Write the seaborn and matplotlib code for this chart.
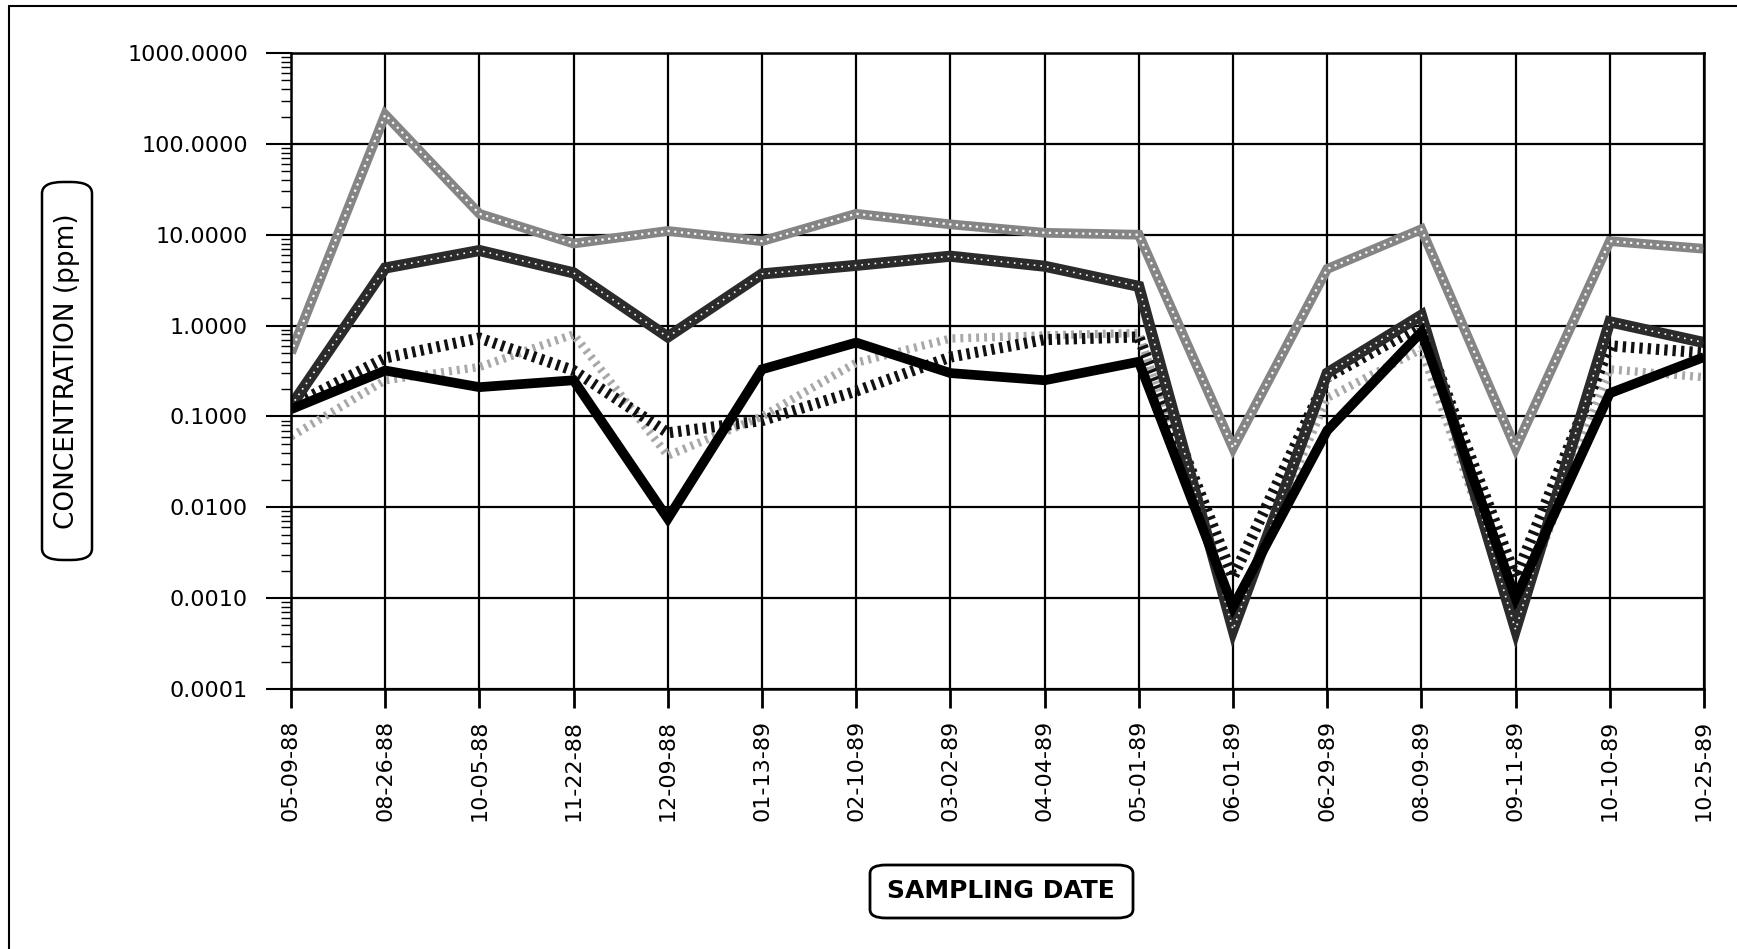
import numpy as np
import pandas as pd
import matplotlib
matplotlib.use("Agg")
import matplotlib.pyplot as plt
import seaborn as sns
from matplotlib.ticker import LogLocator, FixedLocator, FuncFormatter
from matplotlib.lines import Line2D
from matplotlib.patches import FancyBboxPatch

# Dates d'echantillonnage
dates = ["05-09-88", "08-26-88", "10-05-88", "11-22-88", "12-09-88", "01-13-89",
         "02-10-89", "03-02-89", "04-04-89", "05-01-89", "06-01-89", "06-29-89",
         "08-09-89", "09-11-89", "10-10-89", "10-25-89"]

# Concentrations (ppm)
serie_a = [0.5, 210, 17, 8, 11, 8.5, 17, 13, 10.5, 10, 0.045, 4.2, 11.5, 0.045, 8.5, 7]
serie_b = [0.13, 4.3, 6.7, 3.8, 0.75, 3.7, 4.6, 5.8, 4.5, 2.7, 0.00045, 0.3, 1.3, 0.00045, 1.1, 0.65]
serie_c = [0.13, 0.44, 0.73, 0.32, 0.066, 0.09, 0.19, 0.45, 0.7, 0.75, 0.0017, 0.27, 1.0, 0.0017, 0.6, 0.5]
serie_d = [0.06, 0.25, 0.35, 0.8, 0.037, 0.1, 0.39, 0.72, 0.78, 0.83, 0.0006, 0.16, 0.55, 0.0006, 0.33, 0.27]
serie_e = [0.12, 0.32, 0.21, 0.25, 0.0075, 0.33, 0.65, 0.3, 0.25, 0.4, 0.0008, 0.07, 0.85, 0.001, 0.18, 0.45]

y_ticks = [0.0001, 0.001, 0.01, 0.1, 1, 10, 100, 1000]

x = np.arange(len(dates))

sns.set_style("white")
plt.rcParams['font.family'] = ['DejaVu Sans']
plt.rcParams['text.color'] = 'black'
plt.rcParams['xtick.color'] = 'black'
plt.rcParams['ytick.color'] = 'black'

W, H = 1737, 949
fig = plt.figure(figsize=(W / 100, H / 100), dpi=100)
ax = fig.add_axes([291 / W, 1 - 689 / H, (1704 - 291) / W, (689 - 53) / H])

# (valeurs, couleur, epaisseur, tirets, surcouche)
styles = [
    (serie_a, "#858585", 7, None, ("white", 1.6, (1, 2))),
    (serie_d, "#a8a8a8", 6, (0.35, 0.6), None),
    (serie_c, "#111111", 8, (0.3, 0.45), None),
    (serie_b, "#2b2b2b", 8, None, ("white", 1.2, (1, 3))),
    (serie_e, "#000000", 7, None, None),
]

for vals, col, lw, dash, overlay in styles:
    sns.lineplot(x=x, y=vals, ax=ax, color=col, linewidth=lw, sort=False,
                 solid_joinstyle="miter", solid_capstyle="butt")
    if dash is not None:
        ax.lines[-1].set_dashes(dash)
    if overlay is not None:
        oc, olw, od = overlay
        sns.lineplot(x=x, y=vals, ax=ax, color=oc, linewidth=olw, sort=False)
        ax.lines[-1].set_dashes(od)

ax.set_yscale("log")
ax.set_ylim(1e-4, 1e3)
ax.set_xlim(0, len(dates) - 1)

ax.yaxis.set_major_locator(FixedLocator(y_ticks))
ax.yaxis.set_major_formatter(FuncFormatter(lambda v, p: f"{v:.4f}"))
ax.yaxis.set_minor_locator(LogLocator(base=10, subs=np.arange(2, 10), numticks=20))
ax.yaxis.set_minor_formatter(FuncFormatter(lambda v, p: ""))

ax.set_xticks(x)
ax.set_xticklabels(dates, rotation=90)

ax.tick_params(axis="y", which="both", left=True, right=False)
ax.tick_params(axis="x", which="both", bottom=True, top=False)
ax.tick_params(axis="y", which="major", direction="out", length=18, width=1.5,
               labelsize=16, pad=13, color="black", labelcolor="black")
ax.tick_params(axis="y", which="minor", direction="out", length=7, width=1, color="black")
ax.tick_params(axis="x", which="major", direction="out", length=14, width=2,
               labelsize=16, pad=8, color="black", labelcolor="black")

ax.grid(True, which="major", color="black", linewidth=1.6)
for sp in ax.spines.values():
    sp.set_color("black")
    sp.set_linewidth(1.8)

ax.set_xlabel("")
ax.set_ylabel("")

# titres d'axes dans des cadres arrondis
fig.add_artist(FancyBboxPatch((42 / W, 1 - 560 / H), 50 / W, 378 / H,
                              boxstyle="round,pad=0,rounding_size=0.012",
                              transform=fig.transFigure, fc="white", ec="black", lw=1.8))
fig.text(67 / W, 1 - 371 / H, "CONCENTRATION (ppm)", rotation=90,
         ha="center", va="center", fontsize=19)

fig.add_artist(FancyBboxPatch((870 / W, 1 - 918 / H), 263 / W, 53 / H,
                              boxstyle="round,pad=0,rounding_size=0.009",
                              transform=fig.transFigure, fc="white", ec="black", lw=2))
fig.text(1001 / W, 1 - 891 / H, "SAMPLING DATE", ha="center", va="center",
         fontsize=18, fontweight="bold")

# cadre du document scanne
fig.add_artist(Line2D([9 / W, 9 / W], [0, 1 - 6 / H], color="black", lw=1.5))
fig.add_artist(Line2D([9 / W, 1], [1 - 6 / H, 1 - 6 / H], color="black", lw=1.5))

fig.savefig("out.png", dpi=100)
